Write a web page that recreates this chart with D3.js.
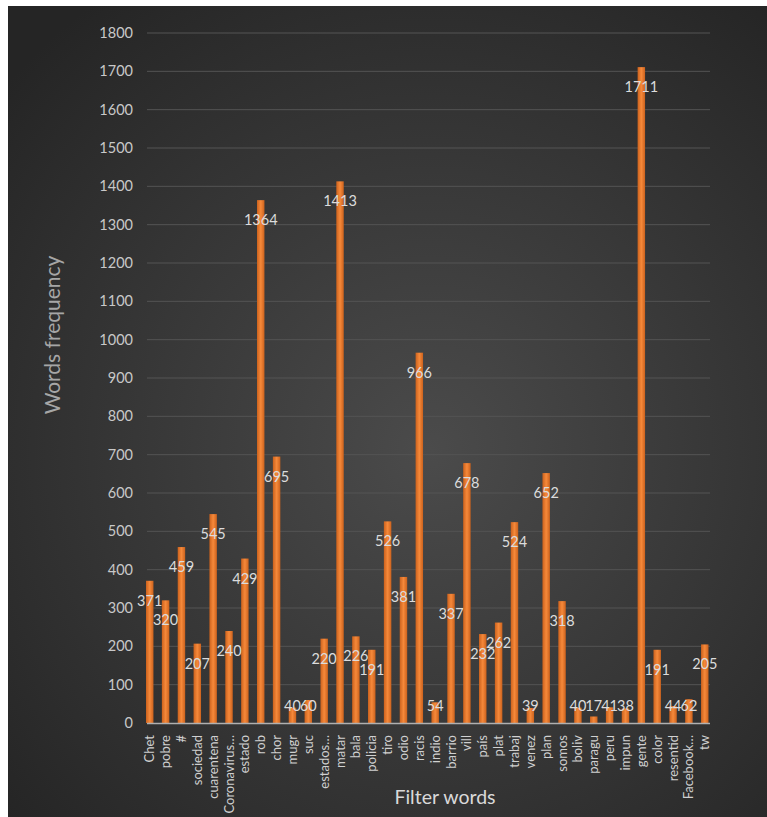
<!DOCTYPE html>
<html><head><meta charset="utf-8">
<script src="https://cdn.jsdelivr.net/npm/d3@7"></script>
<style>html,body{margin:0;padding:0;background:#fff;}svg{display:block;}</style>
</head><body>
<script>
const categories = ["Chet","pobre","#","sociedad","cuarentena","Coronavirus…","estado","rob","chor","mugr","suc","estados…","matar","bala","policia","tiro","odio","racis","indio","barrio","vill","país","plat","trabaj","venez","plan","somos","boliv","paragu","peru","impun","gente","color","resentid","Facebook…","tw"];
const values = [371,320,459,207,545,240,429,1364,695,40,60,220,1413,226,191,526,381,966,54,337,678,232,262,524,39,652,318,40,17,41,38,1711,191,44,62,205];
const yTicks = [0,100,200,300,400,500,600,700,800,900,1000,1100,1200,1300,1400,1500,1600,1700,1800];
const yTitle = "Words frequency";
const xTitle = "Filter words";

const W = 767, H = 817;
const svg = d3.select("body").append("svg").attr("width", W).attr("height", H);
const defs = svg.append("defs");
const bg = defs.append("radialGradient").attr("id","bg").attr("gradientUnits","userSpaceOnUse")
  .attr("cx",430).attr("cy",450).attr("r",560);
bg.append("stop").attr("offset","0%").attr("stop-color","#4b4b4b");
bg.append("stop").attr("offset","100%").attr("stop-color","#252525");
const bar = defs.append("linearGradient").attr("id","bar").attr("x1","0").attr("x2","1").attr("y1","0").attr("y2","0");
bar.append("stop").attr("offset","0%").attr("stop-color","#cc621d");
bar.append("stop").attr("offset","50%").attr("stop-color","#f6893a");
bar.append("stop").attr("offset","100%").attr("stop-color","#cc621d");

svg.append("rect").attr("x",8).attr("y",6).attr("width",W-8).attr("height",H-6).attr("fill","url(#bg)");

const y = d3.scaleLinear().domain([0,1800]).range([723,33]);
const x = d3.scaleBand().domain(categories).range([146,708.5]).paddingInner(0.53).paddingOuter(0);
const gridX0 = 147, gridX1 = 710;
const font = "Lato, 'Open Sans', sans-serif";

// gridlines
svg.append("g").selectAll("line").data(yTicks.filter(d=>d>0)).join("line")
  .attr("x1",gridX0).attr("x2",gridX1).attr("y1",d=>y(d)).attr("y2",d=>y(d))
  .attr("stroke","#545454").attr("stroke-width",1);

// y axis labels
const yAxis = d3.axisLeft(y).tickValues(yTicks).tickFormat(d3.format("d")).tickSize(0).tickPadding(0);
const gy = svg.append("g").attr("transform","translate(133,0)").call(yAxis);
gy.select(".domain").remove();
gy.selectAll("text").attr("fill","#c8c8c8").attr("font-size","14.5px").attr("font-family",font);

// bars
svg.append("g").selectAll("rect").data(values).join("rect")
  .attr("x",(d,i)=>x(categories[i])).attr("width",x.bandwidth())
  .attr("y",d=>y(d)).attr("height",d=>y(0)-y(d)).attr("fill","url(#bar)");

// baseline
svg.append("line").attr("x1",gridX0).attr("x2",gridX1).attr("y1",y(0)+0.5).attr("y2",y(0)+0.5)
  .attr("stroke","#b0b0b0").attr("stroke-width",1.5);

// data labels
svg.append("g").selectAll("text").data(values).join("text")
  .attr("x",(d,i)=>x(categories[i])+x.bandwidth()/2)
  .attr("y",d=>Math.min(y(d)+20, 706))
  .attr("dy","0.35em").attr("text-anchor","middle")
  .attr("fill","#dcdcdc").attr("font-size","14.5px").attr("font-family",font)
  .text(d=>d);

// x labels
const xAxis = d3.axisBottom(x).tickSize(0).tickPadding(0);
const gx = svg.append("g").attr("transform",`translate(0,${y(0)})`).call(xAxis);
gx.select(".domain").remove();
gx.selectAll("text")
  .attr("transform","rotate(-90)")
  .attr("x",-12).attr("y",0).attr("dy","0.35em")
  .attr("text-anchor","end")
  .attr("fill","#d0d0d0").attr("font-size","13px").attr("font-family",font);

// titles
svg.append("text").attr("transform","translate(60,335) rotate(-90)").attr("text-anchor","middle")
  .attr("fill","#a6a6a6").attr("font-size","21px").attr("font-family",font).text(yTitle);
svg.append("text").attr("x",445).attr("y",804).attr("text-anchor","middle")
  .attr("fill","#d9d9d9").attr("font-size","19.5px").attr("font-family",font).text(xTitle);
</script>
</body></html>
